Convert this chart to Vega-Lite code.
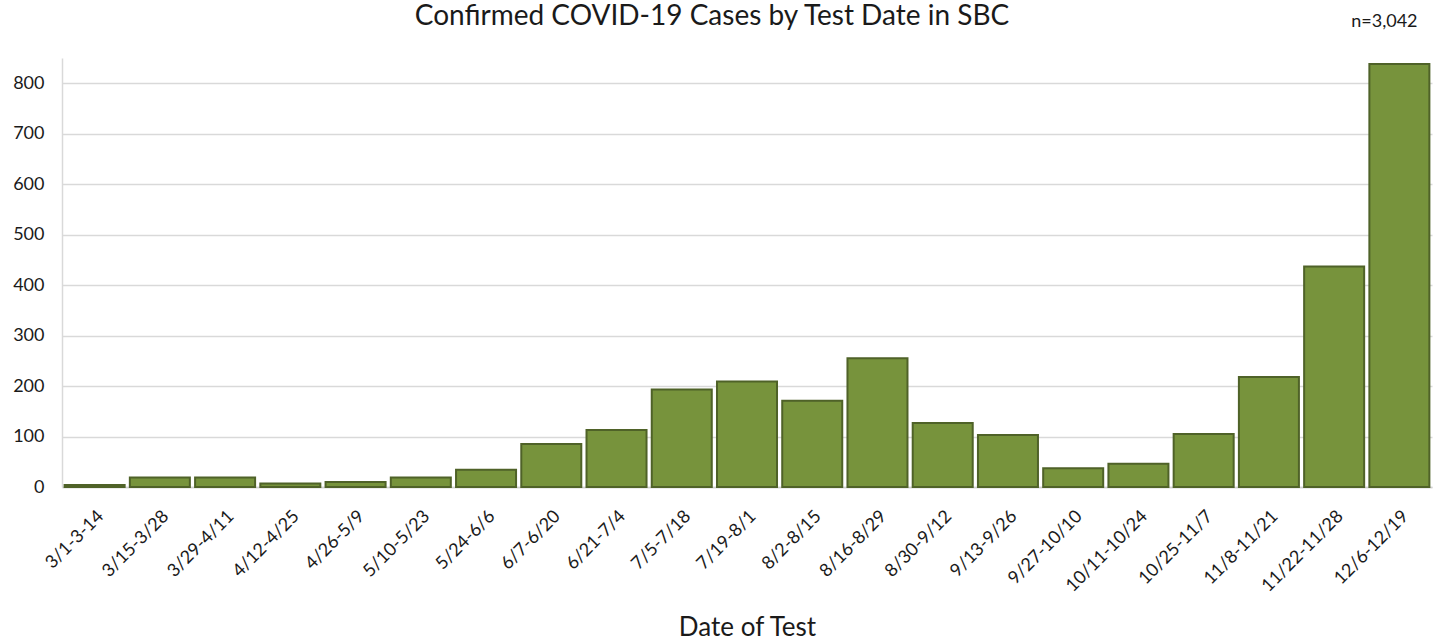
{
  "$schema": "https://vega.github.io/schema/vega-lite/v6.json",
  "autosize": {"type": "none"},
  "width": 1370,
  "height": 429,
  "padding": {"left": 62, "top": 58, "right": 8, "bottom": 155},
  "background": "white",
  "config": {"font": "Lato", "view": {"stroke": null}},
  "title": {
    "text": "Confirmed COVID-19 Cases by Test Date in SBC",
    "anchor": "middle",
    "fontSize": 28,
    "fontWeight": "normal",
    "font": "Lato",
    "color": "#1a1a1a",
    "offset": -18,
    "dx": -35
  },
  "datasets": {
    "cases": [
      {"week": "3/1-3-14", "cases": 4},
      {"week": "3/15-3/28", "cases": 19},
      {"week": "3/29-4/11", "cases": 19},
      {"week": "4/12-4/25", "cases": 7},
      {"week": "4/26-5/9", "cases": 10},
      {"week": "5/10-5/23", "cases": 19},
      {"week": "5/24-6/6", "cases": 34},
      {"week": "6/7-6/20", "cases": 85},
      {"week": "6/21-7/4", "cases": 113},
      {"week": "7/5-7/18", "cases": 193},
      {"week": "7/19-8/1", "cases": 209},
      {"week": "8/2-8/15", "cases": 171},
      {"week": "8/16-8/29", "cases": 255},
      {"week": "8/30-9/12", "cases": 127},
      {"week": "9/13-9/26", "cases": 103},
      {"week": "9/27-10/10", "cases": 37},
      {"week": "10/11-10/24", "cases": 46},
      {"week": "10/25-11/7", "cases": 105},
      {"week": "11/8-11/21", "cases": 218},
      {"week": "11/22-11/28", "cases": 437},
      {"week": "12/6-12/19", "cases": 838}
    ],
    "note": [{"week": "12/6-12/19", "label": "n=3,042"}]
  },
  "layer": [
    {
      "data": {"name": "cases"},
      "mark": {"type": "bar", "fill": "#77933C", "stroke": "#4F6228", "strokeWidth": 2},
      "encoding": {
        "x": {
          "field": "week",
          "type": "nominal",
          "sort": null,
          "scale": {"paddingInner": 0.08, "paddingOuter": 0.04},
          "axis": {
            "title": "Date of Test",
            "titleFontSize": 26,
            "titleFontWeight": "normal",
            "titleColor": "#1a1a1a",
            "titlePadding": 19,
            "labelAngle": -45,
            "labelFontSize": 18,
            "labelColor": "#1a1a1a",
            "labelPadding": 20,
            "ticks": false,
            "domainColor": "#d0d0d0",
            "domainWidth": 1.5
          }
        },
        "y": {
          "field": "cases",
          "type": "quantitative",
          "scale": {"domain": [0, 850], "nice": false},
          "axis": {
            "title": null,
            "values": [0, 100, 200, 300, 400, 500, 600, 700, 800],
            "labelFontSize": 18,
            "labelColor": "#1a1a1a",
            "labelPadding": 18,
            "ticks": false,
            "grid": true,
            "gridColor": "#d9d9d9",
            "gridWidth": 1.5,
            "domain": true,
            "domainColor": "#d9d9d9",
            "domainWidth": 1.5
          }
        }
      }
    },
    {
      "data": {"name": "note"},
      "mark": {"type": "text", "fontSize": 18, "color": "#1a1a1a", "baseline": "alphabetic", "dy": -31, "dx": -15, "font": "Lato"},
      "encoding": {
        "x": {"field": "week", "type": "nominal", "sort": null},
        "y": {"datum": 850, "type": "quantitative"},
        "text": {"field": "label"}
      }
    }
  ]
}
